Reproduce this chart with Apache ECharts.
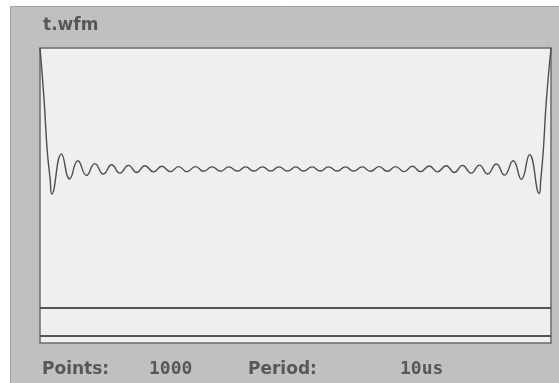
<!DOCTYPE html>
<html>
<head>
<meta charset="utf-8">
<script src="https://cdn.jsdelivr.net/npm/echarts@6/dist/echarts.min.js"></script>
<style>
html,body{margin:0;padding:0;background:#ffffff;}
#chart{width:559px;height:383px;}
</style>
</head>
<body>
<div id="chart"></div>
<script>
// Waveform: sample index (0..999) and level (0..100 of plot height)
var sampleIndex = [0, 8, 14, 20, 23, 42, 58, 74, 91, 107, 124, 140, 156, 173, 189, 205, 222, 238, 255, 271, 287, 304, 320, 336, 353, 369, 386, 402, 418, 435, 451, 467, 484, 500,
  515, 532, 548, 564, 581, 597, 613, 630, 646, 663, 679, 695, 712, 728, 744, 761, 777, 794, 810, 826, 843, 859, 875, 892, 908, 925, 941, 957, 976, 979, 984, 990, 999];
var sampleLevel = [100, 82.4, 65.4, 55.3, 50.5, 64.1, 55.6, 61.8, 56.8, 60.8, 57.3, 60.4, 57.6, 60.2, 57.8, 60.1, 58.0, 59.9, 58.1, 59.8, 58.1, 59.8, 58.2, 59.7, 58.2, 59.7, 58.3, 59.7, 58.3, 59.7, 58.3, 59.7, 58.3, 59.7,
  58.3, 59.7, 58.3, 59.7, 58.3, 59.7, 58.3, 59.7, 58.2, 59.8, 58.2, 59.8, 58.1, 59.9, 58.1, 60.0, 58.0, 60.1, 57.8, 60.2, 57.6, 60.3, 57.3, 60.7, 56.9, 61.8, 55.5, 63.8, 50.7, 55.3, 65.4, 82.4, 100];
// horizontal marker levels in the lower strip
var markerLevels = [12.1, 2.5];
// labels
var titleText = 't.wfm';
var infoLabels = ['Points:', '1000', 'Period:', '10us'];

var chart = echarts.init(document.getElementById('chart'), null, {renderer: 'canvas'});
var waveData = sampleIndex.map(function (x, i) { return [x, sampleLevel[i]]; });

var textColor = '#575757';
var option = {
  animation: false,
  backgroundColor: '#ffffff',
  graphic: [
    {type: 'rect', z: -10, shape: {x: 10.5, y: 6.5, width: 560, height: 390},
     style: {fill: '#c0c0c0', stroke: '#a2a2a2', lineWidth: 1}},
    {type: 'text', z: 10, x: 43, y: 26, style: {text: titleText, fill: textColor, font: 'bold 17px "DejaVu Sans"', verticalAlign: 'middle'}},
    {type: 'text', z: 10, x: 42, y: 370, style: {text: infoLabels[0], fill: textColor, font: 'bold 17px "DejaVu Sans"', verticalAlign: 'middle'}},
    {type: 'text', z: 10, x: 149, y: 369, style: {text: infoLabels[1], fill: textColor, font: 'bold 18px "DejaVu Sans Mono"', verticalAlign: 'middle'}},
    {type: 'text', z: 10, x: 248, y: 370, style: {text: infoLabels[2], fill: textColor, font: 'bold 17px "DejaVu Sans"', verticalAlign: 'middle'}},
    {type: 'text', z: 10, x: 400, y: 369, style: {text: infoLabels[3], fill: textColor, font: 'bold 18px "DejaVu Sans Mono"', verticalAlign: 'middle'}}
  ],
  grid: {left: 40, top: 48, width: 511, height: 295, show: true, backgroundColor: '#efefef', borderColor: '#6c6c6c', borderWidth: 1.5},
  xAxis: {type: 'value', min: 0, max: 999, show: false},
  yAxis: {type: 'value', min: 0, max: 100, show: false},
  series: [{
    type: 'line',
    data: waveData,
    showSymbol: false,
    smooth: 0.5,
    lineStyle: {color: '#4e4e4e', width: 1.4},
    markLine: {
      silent: true,
      symbol: ['none', 'none'],
      label: {show: false},
      lineStyle: {color: '#555555', width: 2, type: 'solid'},
      data: markerLevels.map(function (v) { return {yAxis: v}; })
    }
  }]
};
chart.setOption(option);
</script>
</body>
</html>
